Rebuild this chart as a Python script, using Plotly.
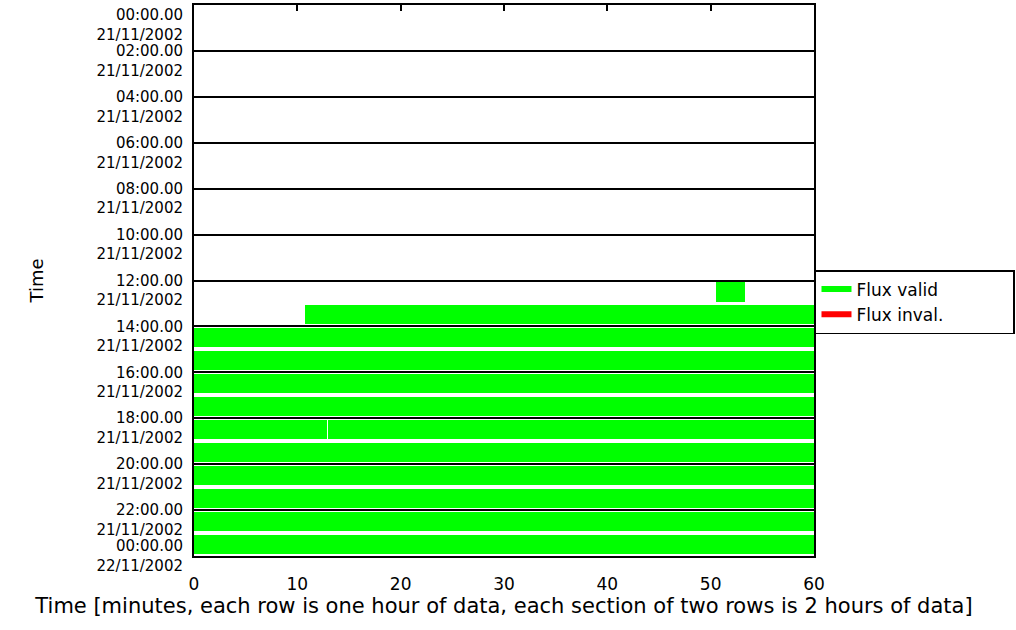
import plotly.graph_objects as go

# ---- data ----
row_hours = [12, 13, 14, 15, 16, 17, 18, 18, 19, 20, 21, 22, 23]
seg_start = [50.5, 10.7, 0, 0, 0, 0, 0, 12.95, 0, 0, 0, 0, 0]
seg_end = [53.3, 60, 60, 60, 60, 60, 12.85, 60, 60, 60, 60, 60, 60]

y_tick_hours = [0, 2, 4, 6, 8, 10, 12, 14, 16, 18, 20, 22, 24]
y_tick_times = ["00:00.00", "02:00.00", "04:00.00", "06:00.00", "08:00.00", "10:00.00",
                "12:00.00", "14:00.00", "16:00.00", "18:00.00", "20:00.00", "22:00.00",
                "00:00.00"]
y_tick_dates = ["21/11/2002"] * 12 + ["22/11/2002"]

x_ticks = [0, 10, 20, 30, 40, 50, 60]
x_top_ticks = [10, 20, 30, 40, 50]

legend_names = ["Flux valid", "Flux inval."]
legend_colors = ["#00ff00", "#ff0000"]

FONT = "DejaVu Sans"
PAD = "\u00a0" * 12  # widen the legend box like the original

# tick label text: time line at the tick, date below; the first and last labels
# are nudged inward (as the original plotting tool does) so they stay on the page
y_ticktext = []
n = len(y_tick_times)
for i, (t, d) in enumerate(zip(y_tick_times, y_tick_dates)):
    if i == 0:
        y_ticktext.append("<br><br>" + t + "<br>" + d)
    elif i == n - 1:
        y_ticktext.append(t + "<br>" + d)
    else:
        y_ticktext.append("<br>" + t + "<br>" + d)

fig = go.Figure()

fig.add_trace(go.Bar(
    orientation="h",
    y=[h + 0.5 for h in row_hours],
    x=[e - s for s, e in zip(seg_start, seg_end)],
    base=seg_start,
    width=0.83,
    marker=dict(color="#00ff00", line=dict(width=0)),
    showlegend=False,
    hoverinfo="skip",
))

for i, (name, col) in enumerate(zip(legend_names, legend_colors)):
    fig.add_trace(go.Scatter(
        x=[None], y=[None], mode="lines", name=name + PAD, legendgroup="g%d" % i,
        line=dict(color=col, width=6),
    ))

# invisible trace to carry the top tick axis
fig.add_trace(go.Scatter(x=[None], y=[None], xaxis="x2", showlegend=False,
                         mode="markers", hoverinfo="skip"))

fig.update_layout(
    width=1016, height=630,
    margin=dict(l=194, r=202, t=5, b=74, autoexpand=False),
    paper_bgcolor="white", plot_bgcolor="white",
    font=dict(family=FONT, size=17, color="black"),
    bargap=0,
    xaxis=dict(
        range=[0, 60], tickvals=x_ticks, ticktext=[str(v) for v in x_ticks],
        ticks="", showgrid=False, zeroline=False, automargin=False,
        showline=True, linecolor="black", linewidth=2, mirror=True,
        ticklabelstandoff=12, ticklabeloverflow="allow",
        tickfont=dict(size=17),
        title=dict(text="Time [minutes, each row is one hour of data, each section of two rows is 2 hours of data]",
                   font=dict(size=21), standoff=3),
    ),
    xaxis2=dict(
        overlaying="x", side="top", range=[0, 60], tickvals=x_top_ticks,
        ticks="inside", ticklen=6, tickwidth=2, tickcolor="black",
        showticklabels=False, showgrid=False, zeroline=False, showline=False,
    ),
    yaxis=dict(
        range=[24.001, -0.001], tickvals=y_tick_hours, ticktext=y_ticktext,
        ticks="", showgrid=True, gridcolor="black", gridwidth=1.5, zeroline=False,
        showline=True, linecolor="black", linewidth=2, mirror=True,
        automargin=False,
        ticklabelstandoff=6, ticklabeloverflow="allow",
        tickfont=dict(size=15),
        title=dict(text="Time", font=dict(size=18), standoff=48),
    ),
    legend=dict(
        x=1.0016, xanchor="left", y=0.519, yanchor="top",
        bgcolor="white", bordercolor="black", borderwidth=1.5,
        font=dict(size=17), traceorder="grouped", tracegroupgap=0,
    ),
)

fig.write_html("out.html", post_script="document.body.style.margin='0';",
               config={"displayModeBar": False})
